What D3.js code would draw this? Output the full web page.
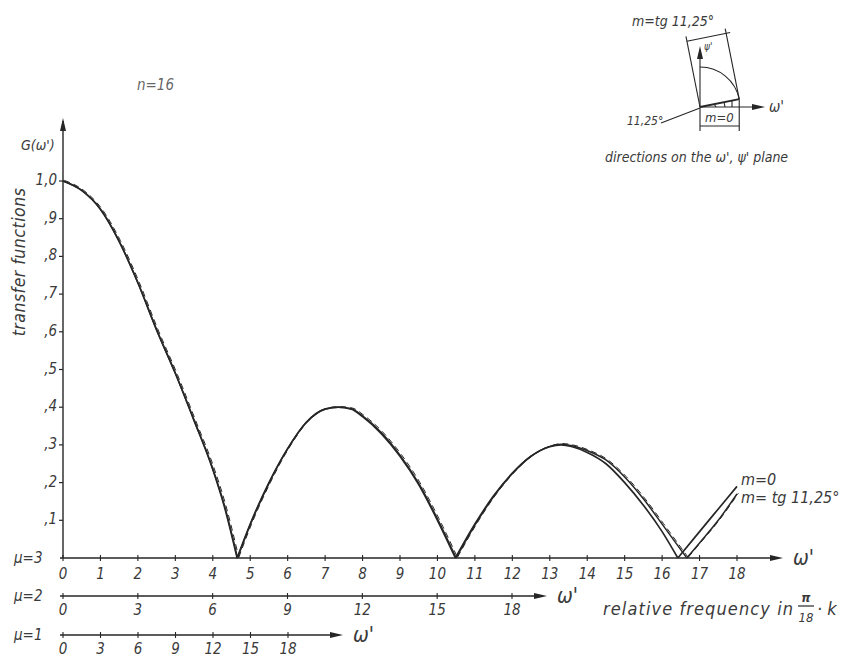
<!DOCTYPE html>
<html>
<head>
<meta charset="utf-8">
<script src="https://cdn.jsdelivr.net/npm/d3@7"></script>
<style>
  body { margin: 0; background: #fff; }
  svg text { font-family: "DejaVu Sans Condensed", "DejaVu Sans", sans-serif; font-style: italic; fill: #3a3a3a; }
</style>
</head>
<body>
<div id="chart"></div>
<script>
// relative frequency (omega') and transfer function values
const omegaM0 = [0, 0.5, 1, 1.5, 2, 2.5, 3, 3.5, 4, 4.3, 4.65,
  5, 5.5, 6, 6.5, 7, 7.35, 7.7, 8, 8.5, 9, 9.5, 10, 10.48,
  11, 11.5, 12, 12.5, 13, 13.3, 13.6, 14, 14.5, 15, 15.5, 16, 16.42,
  17, 17.5, 18];
const valuesM0 = [1.0, 0.975, 0.925, 0.84, 0.73, 0.605, 0.49, 0.365, 0.235, 0.14, 0,
  0.09, 0.20, 0.29, 0.36, 0.395, 0.40, 0.395, 0.375, 0.33, 0.27, 0.195, 0.10, 0,
  0.09, 0.165, 0.225, 0.27, 0.295, 0.30, 0.295, 0.28, 0.25, 0.20, 0.14, 0.07, 0,
  0.07, 0.13, 0.19];

const omegaMtg = [0, 0.5, 1, 1.5, 2, 2.5, 3, 3.5, 4, 4.3, 4.66,
  5, 5.5, 6, 6.5, 7, 7.35, 7.7, 8, 8.5, 9, 9.5, 10, 10.5,
  11, 11.5, 12, 12.5, 13, 13.3, 13.6, 14, 14.5, 15, 15.5, 16, 16.66,
  17, 17.5, 18];
const valuesMtg = [1.0, 0.975, 0.925, 0.84, 0.73, 0.605, 0.49, 0.365, 0.237, 0.143, 0,
  0.088, 0.198, 0.29, 0.36, 0.395, 0.40, 0.396, 0.377, 0.333, 0.273, 0.198, 0.104, 0,
  0.087, 0.163, 0.224, 0.27, 0.296, 0.302, 0.298, 0.285, 0.26, 0.215, 0.157, 0.09, 0,
  0.04, 0.10, 0.17];

const yTicks = [0.1, 0.2, 0.3, 0.4, 0.5, 0.6, 0.7, 0.8, 0.9, 1.0];
const yTickLabels = [",1", ",2", ",3", ",4", ",5", ",6", ",7", ",8", ",9", "1,0"];
const ticksMu3 = d3.range(0, 19, 1);
const ticksMu2 = [0, 3, 6, 9, 12, 15, 18];
const ticksMu1 = [0, 3, 6, 9, 12, 15, 18];

const width = 844, height = 657;
const ink = "#262626";

const svg = d3.select("#chart").append("svg")
  .attr("width", width)
  .attr("height", height);

// scales: mu=3 axis is the main one, mu=2 and mu=1 are compressed copies
const x3 = d3.scaleLinear().domain([0, 18]).range([63, 737]);
const x2 = d3.scaleLinear().domain([0, 18]).range([63, 512]);
const x1 = d3.scaleLinear().domain([0, 18]).range([63, 288]);
const y = d3.scaleLinear().domain([0, 1]).range([558, 181]);

const yMu2 = 596, yMu1 = 635;

function arrowHead(g, x, yy, dir) {
  // small filled arrow head
  const p = dir === "right"
    ? [[x, yy], [x - 13, yy - 3], [x - 13, yy + 3]]
    : [[x, yy], [x - 3, yy + 13], [x + 3, yy + 13]];
  g.append("path").attr("d", d3.line()(p) + "Z").attr("fill", ink);
}

// y axis
const gy = svg.append("g");
gy.append("line").attr("x1", x3(0)).attr("x2", x3(0)).attr("y1", y(0)).attr("y2", 121)
  .attr("stroke", ink).attr("stroke-width", 1.4);
arrowHead(gy, x3(0), 118, "up");
yTicks.forEach((t, i) => {
  gy.append("line").attr("x1", x3(0) - 4).attr("x2", x3(0)).attr("y1", y(t)).attr("y2", y(t))
    .attr("stroke", ink).attr("stroke-width", 1.2);
  gy.append("text").attr("x", x3(0) - 6).attr("y", y(t) + 4)
    .attr("text-anchor", "end").style("font-size", "15px").text(yTickLabels[i]);
});
gy.append("text").attr("x", 21).attr("y", 150).style("font-size", "14px").text("G(ω')");
gy.append("text")
  .attr("transform", "translate(25,262) rotate(-90)")
  .attr("text-anchor", "middle").style("font-size", "17.5px").style("letter-spacing", "0.5px")
  .text("transfer  functions");

// horizontal axes
function hAxis(scale, yy, ticks, xEnd, muLabel, labelDy) {
  const g = svg.append("g");
  g.append("line").attr("x1", scale(0) - 3).attr("x2", xEnd - 4).attr("y1", yy).attr("y2", yy)
    .attr("stroke", ink).attr("stroke-width", 1.4);
  arrowHead(g, xEnd, yy, "right");
  ticks.forEach(t => {
    g.append("line").attr("x1", scale(t)).attr("x2", scale(t)).attr("y1", yy - 3).attr("y2", yy + 3)
      .attr("stroke", ink).attr("stroke-width", 1.1);
    g.append("text").attr("x", scale(t)).attr("y", yy + labelDy)
      .attr("text-anchor", "middle").style("font-size", "15px").text(t);
  });
  g.append("text").attr("x", xEnd + 10).attr("y", yy + 7).style("font-size", "21px").text("ω'");
  g.append("text").attr("x", 14).attr("y", yy + 5).style("font-size", "15px").text(muLabel);
}
hAxis(x3, y(0), ticksMu3, 783, "μ=3", 21);
hAxis(x2, yMu2, ticksMu2, 547, "μ=2", 19);
hAxis(x1, yMu1, ticksMu1, 343, "μ=1", 19);

// curves, drawn lobe by lobe so that the zeros stay sharp
function lobes(xs, vs) {
  const out = [];
  let cur = [];
  xs.forEach((xv, i) => {
    cur.push([xv, vs[i]]);
    if (vs[i] === 0 && cur.length > 1) { out.push(cur); cur = [[xv, 0]]; }
  });
  if (cur.length > 1) out.push(cur);
  return out;
}
const line = d3.line().x(d => x3(d[0])).y(d => y(d[1])).curve(d3.curveMonotoneX);

const gCurves = svg.append("g").attr("fill", "none");
lobes(omegaMtg, valuesMtg).forEach(seg => {
  gCurves.append("path").attr("d", line(seg)).attr("stroke", ink).attr("stroke-width", 1.5);
  gCurves.append("path").attr("d", line(seg)).attr("stroke", ink).attr("stroke-width", 1)
    .attr("stroke-dasharray", "6,4").attr("transform", "translate(1.3,-0.6)");
});
lobes(omegaM0, valuesM0).forEach(seg => {
  gCurves.append("path").attr("d", line(seg)).attr("stroke", ink).attr("stroke-width", 1.7);
});

// curve labels
svg.append("text").attr("x", 741).attr("y", 485).style("font-size", "16px").text("m=0");
svg.append("text").attr("x", 741).attr("y", 503).style("font-size", "16px").text("m= tg 11,25°");

// title
svg.append("text").attr("x", 137).attr("y", 90).style("font-size", "15px").attr("fill-opacity", 0.8).text("n=16");

// bottom caption
const cap = svg.append("g");
cap.append("text").attr("x", 603).attr("y", 615).style("font-size", "18px").style("letter-spacing", "1.1px").text("relative  frequency  in");
cap.append("text").attr("x", 806).attr("y", 602).attr("text-anchor", "middle").style("font-size", "13px").style("font-weight", "bold").text("π");
cap.append("line").attr("x1", 798).attr("x2", 814).attr("y1", 606).attr("y2", 606).attr("stroke", ink).attr("stroke-width", 1.2);
cap.append("text").attr("x", 806).attr("y", 622).attr("text-anchor", "middle").style("font-size", "13px").text("18");
cap.append("text").attr("x", 817).attr("y", 615).style("font-size", "18px").text("· k");

// inset: directions on the omega', psi' plane
const ins = svg.append("g").attr("stroke", ink).attr("fill", "none").attr("stroke-width", 1.1);
const ox = 700, oy = 107, r = 40;
const a = 11.25 * Math.PI / 180;
const px = ox + r * Math.cos(a), py = oy - r * Math.sin(a);
const up = 72;
const ux = -Math.sin(a) * up, uy = -Math.cos(a) * up;
ins.append("line").attr("x1", ox).attr("y1", oy).attr("x2", 760).attr("y2", oy);
arrowHead(svg, 765, oy, "right");
ins.append("line").attr("x1", ox).attr("y1", oy).attr("x2", ox).attr("y2", 50);
arrowHead(svg, ox, 46, "up");
ins.append("path").attr("d", `M${ox},${oy - r} A${r},${r} 0 0 1 ${px},${py}`);
ins.append("line").attr("x1", ox).attr("y1", oy).attr("x2", px).attr("y2", py).attr("stroke-width", 1.8);
ins.append("line").attr("x1", ox).attr("y1", oy).attr("x2", ox + ux).attr("y2", oy + uy);
ins.append("line").attr("x1", px).attr("y1", py).attr("x2", px + ux).attr("y2", py + uy);
// dimension line of the tilted strip
const dx0 = ox + ux * 0.93, dy0 = oy + uy * 0.93, dx1 = px + ux * 0.93, dy1 = py + uy * 0.93;
ins.append("line").attr("x1", dx0).attr("y1", dy0).attr("x2", dx1 + 4).attr("y2", dy1 - 1);
// small hatch on the 11.25 degree direction
ins.append("path").attr("d", `M${ox + 14},${oy - 3} l2,3 M${ox + 24},${oy - 5} l1,5 M${ox + 32},${oy - 6} l0,6`);
// m=0 dimension
ins.append("line").attr("x1", ox).attr("y1", oy).attr("x2", ox).attr("y2", 131);
ins.append("line").attr("x1", px).attr("y1", py).attr("x2", px).attr("y2", 131);
ins.append("line").attr("x1", ox).attr("y1", 126).attr("x2", px).attr("y2", 126);
ins.append("line").attr("x1", 661).attr("y1", 123).attr("x2", ox).attr("y2", oy + 1);

const insText = svg.append("g");
insText.append("text").attr("x", 632).attr("y", 26).style("font-size", "14px").text("m=tg 11,25°");
insText.append("text").attr("x", 704).attr("y", 50).style("font-size", "10px").text("ψ'");
insText.append("text").attr("x", 769).attr("y", 112).style("font-size", "15px").text("ω'");
insText.append("text").attr("x", 705).attr("y", 122).style("font-size", "13px").text("m=0");
insText.append("text").attr("x", 627).attr("y", 125).style("font-size", "12px").text("11,25°");
insText.append("text").attr("x", 605).attr("y", 162).style("font-size", "14px").text("directions on the ω', ψ' plane");
</script>
</body>
</html>
